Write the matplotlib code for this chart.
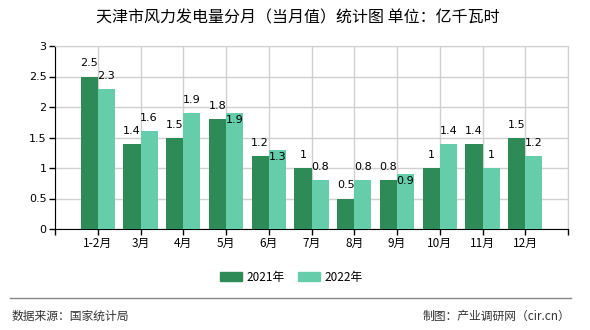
import matplotlib
matplotlib.use("Agg")
import matplotlib.pyplot as plt
from matplotlib.patches import Rectangle
from matplotlib.lines import Line2D
import numpy as np

plt.rcParams['font.family'] = ['Noto Sans CJK SC', 'DejaVu Sans']

categories = ["1-2月", "3月", "4月", "5月", "6月", "7月", "8月", "9月", "10月", "11月", "12月"]
v2021 = [2.5, 1.4, 1.5, 1.8, 1.2, 1.0, 0.5, 0.8, 1.0, 1.4, 1.5]
v2022 = [2.3, 1.6, 1.9, 1.9, 1.3, 0.8, 0.8, 0.9, 1.4, 1.0, 1.2]
series_names = ["2021年", "2022年"]
yticks = [0, 0.5, 1, 1.5, 2, 2.5, 3]
ytick_labels = ["0", "0.5", "1", "1.5", "2", "2.5", "3"]
title = "天津市风力发电量分月（当月值）统计图 单位：亿千瓦时"
source_text = "数据来源：国家统计局"
credit_text = "制图：产业调研网（cir.cn）"

c1 = "#2E8B57"
c2 = "#66CDAA"

W, H = 590, 330
fig = plt.figure(figsize=(W / 100, H / 100), dpi=100)
L, R, T, B = 55, 568, 46, 229
ax = fig.add_axes([L / W, 1 - B / H, (R - L) / W, (B - T) / H])

n = len(categories)
x = np.arange(n)
bw = 0.4
ax.bar(x - bw / 2, v2021, width=bw, color=c1, zorder=3)
ax.bar(x + bw / 2, v2022, width=bw, color=c2, zorder=3)

ax.set_xlim(-1, n)
ax.set_ylim(0, 3)
ax.set_yticks(yticks)
ax.set_yticklabels(ytick_labels, fontsize=8, family=['DejaVu Sans'])
ax.set_xticks(list(range(-1, n + 1)))
ax.set_xticklabels([""] + categories + [""], fontsize=8.5)
ax.tick_params(axis='both', length=4, width=1, color='black', pad=2)
ax.grid(True, color='#d0d0d0', linewidth=1, zorder=0)
for s in ['top', 'right']:
    ax.spines[s].set_color('#d0d0d0')
for s in ['left', 'bottom']:
    ax.spines[s].set_color('black')

# data labels
px_per_unit = (B - T) / 3.0
off = 13 / px_per_unit
for i in range(n):
    a, b = v2021[i], v2022[i]
    ax.text(x[i] - bw / 2, a + off, f"{a:g}", ha='center', va='center',
            fontsize=8, family=['DejaVu Sans'], zorder=5)
    if abs(a - b) < 0.15:
        yb = b - 7 / px_per_unit
    else:
        yb = b + off
    ax.text(x[i] + bw / 2, yb, f"{b:g}", ha='center', va='center',
            fontsize=8, family=['DejaVu Sans'], zorder=5)

fig.text(298 / W, 1 - 18 / H, title, ha='center', va='center', fontsize=11.5)

# legend
for px0, col, name in [(220, c1, series_names[0]), (298, c2, series_names[1])]:
    fig.patches.append(Rectangle((px0 / W, 1 - 281 / H), 22 / W, 9 / H,
                                 transform=fig.transFigure, color=col))
    fig.text((px0 + 26) / W, 1 - 277 / H, name, ha='left', va='center', fontsize=8.5)

fig.lines.append(Line2D([10 / W, 571 / W], [1 - 298 / H, 1 - 298 / H],
                        transform=fig.transFigure, color='#888888', linewidth=1))
fig.text(12 / W, 1 - 316 / H, source_text, ha='left', va='center', fontsize=8.5, color='#333333')
fig.text(570 / W, 1 - 316 / H, credit_text, ha='right', va='center', fontsize=8.5, color='#333333')

fig.savefig("out.png", dpi=100)
